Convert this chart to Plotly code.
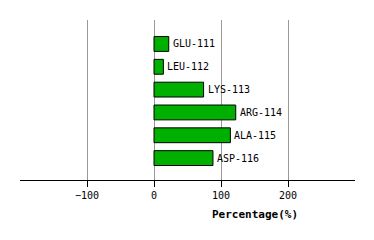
import plotly.graph_objects as go

categories = ["GLU-111", "LEU-112", "LYS-113", "ARG-114", "ALA-115", "ASP-116"]
values = [22, 14, 74, 122, 114, 88]
tick_vals = [-100, 0, 100, 200]
tick_text = ["\u2212100", "0", "100", "200"]

idx = list(range(len(categories)))
font = "DejaVu Sans Mono"

fig = go.Figure()
fig.add_trace(go.Bar(
    y=idx, x=values, orientation="h", width=0.65,
    marker=dict(color="#00b000", line=dict(color="black", width=1)),
    hoverinfo="skip",
))
annotations = [
    dict(x=v, y=i, xref="x", yref="y", text=c, showarrow=False,
         xanchor="left", yanchor="middle", xshift=2,
         font=dict(family=font, size=10, color="black"))
    for i, (c, v) in enumerate(zip(categories, values))
]
annotations.append(dict(
    text="<b>Percentage(%)</b>", x=(255 - 20) / (374 - 39), y=-(214 - 180) / 160,
    xref="paper", yref="paper", xanchor="center", yanchor="middle",
    showarrow=False, font=dict(family=font, size=11, color="black"),
))
fig.update_layout(
    width=374, height=240,
    margin=dict(l=20, r=19, t=20, b=60),
    plot_bgcolor="white", paper_bgcolor="white",
    showlegend=False,
    xaxis=dict(
        range=[-200, 300], tickvals=tick_vals, ticktext=tick_text,
        showgrid=True, gridcolor="#999999", gridwidth=1,
        zeroline=False, showline=True, linecolor="black", linewidth=1,
        ticks="outside", ticklen=6, tickcolor="black",
        tickfont=dict(family=font, size=10, color="black"),
    ),
    yaxis=dict(
        range=[5.96, -1.05], showgrid=False, zeroline=False,
        showticklabels=False, showline=False,
    ),
    annotations=annotations,
)
fig.write_html("out.html")
